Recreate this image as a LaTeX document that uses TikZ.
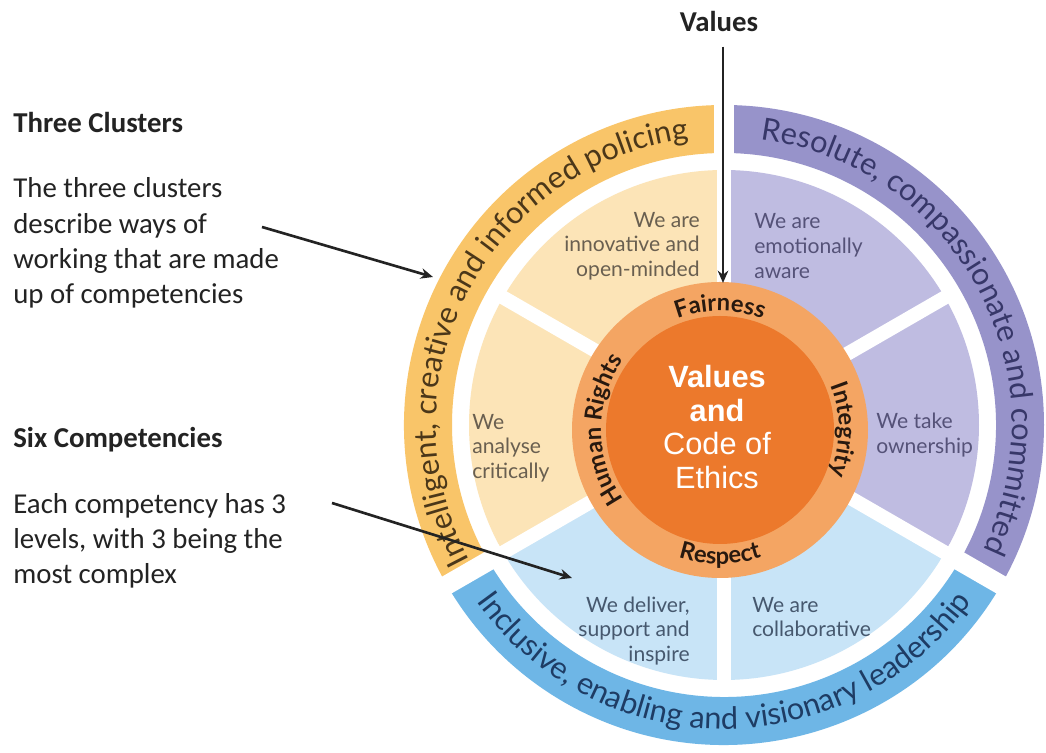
\documentclass[tikz,border=0pt]{standalone}
\usepackage{fontspec}
\setmainfont{Carlito}
\newfontfamily\wheelfont{Lato}
\newfontfamily\corefont{Liberation Sans}
\usepackage{xcolor}
\usepackage{tikz}
\usetikzlibrary{arrows.meta,decorations.text}

\definecolor{ink}{RGB}{35,35,35}
\definecolor{goldband}{RGB}{249,197,105}
\definecolor{goldwedge}{RGB}{252,228,183}
\definecolor{goldtext}{RGB}{105,95,80}
\definecolor{goldink}{RGB}{75,55,25}
\definecolor{lilacband}{RGB}{151,147,202}
\definecolor{lilacwedge}{RGB}{191,188,225}
\definecolor{lilactext}{RGB}{85,82,120}
\definecolor{lilacink}{RGB}{55,55,105}
\definecolor{skyband}{RGB}{110,182,230}
\definecolor{skywedge}{RGB}{200,228,247}
\definecolor{skytext}{RGB}{70,88,110}
\definecolor{skyink}{RGB}{30,60,100}
\definecolor{ringorange}{RGB}{244,165,99}
\definecolor{coreorange}{RGB}{236,121,44}
\definecolor{ringink}{RGB}{40,25,15}

\newcommand\ringfont{\wheelfont\bfseries\fontsize{13.5}{15}\selectfont}
\newcommand\bandfont{\wheelfont\fontsize{17.5}{19}\selectfont}

\begin{document}
\begin{tikzpicture}[x=0.02cm, y=0.02cm,
  head/.style={font=\bfseries\fontsize{16.4}{20}\selectfont, text=ink, inner sep=0pt},
  para/.style={font=\fontsize{16.4}{20}\selectfont, text=ink, align=left, inner sep=0pt},
  wedge/.style={font=\wheelfont\fontsize{12}{14}\selectfont, inner sep=0pt},
  ringword/.style={decorate, decoration={text along path, text align=center, text color=ringink, text={|\ringfont|#1}}},
  band/.style n args={2}{decorate, decoration={text along path, text align=center, text color=#1, text={|\bandfont|#2}}},
  pointer/.style={-{Stealth[length=7pt,width=6pt]}, line width=1.5pt, ink}]

\fill[white] (0,0) rectangle (1046,753);
\useasboundingbox (0,0) rectangle (1046,753);

% Centres
\coordinate (o) at (724,328);
\coordinate (c) at (720,323);

% Clusters
\foreach \a/\col in {90/goldband, -30/lilacband, 210/skyband}
  \fill[\col, shift={(o)}] (\a:272) arc[start angle=\a, delta angle=120, radius=272]
    -- (\a+120:320) arc[start angle=\a+120, delta angle=-120, radius=320] -- cycle;

% Competencies
\foreach \a/\col in {90/goldwedge, 150/goldwedge, -30/lilacwedge, 30/lilacwedge, 210/skywedge, 270/skywedge}
  \fill[\col, shift={(o)}] (0,0) -- (\a:255) arc[start angle=\a, delta angle=60, radius=255] -- cycle;

% Gaps
\foreach \a in {30,90,...,330}
  \draw[white, line width=8pt] (o) -- ++(\a:262);
\foreach \a in {90,210,330}
  \draw[white, line width=11pt] (o) ++(\a:255) -- ++(\a:80);

% Core
\fill[ringorange] (c) circle[radius=148];
\fill[coreorange] (c) circle[radius=114];
\node[font=\corefont\fontsize{17.5}{19}\selectfont, text=white, align=center, inner sep=0pt] (core) at (717,326)
  {\textbf{Values}\\\textbf{and}\\Code of\\Ethics};

\begin{scope}[shift={(c)}]
\path[ringword=Fairness] (130:119) arc[start angle=130, end angle=50, radius=119];
\path[ringword=Integrity] (45:119) arc[start angle=45, end angle=-45, radius=119];
\path[ringword=Respect] (225:134) arc[start angle=225, end angle=315, radius=134];
\path[ringword={Human Rights}] (240:119) arc[start angle=240, end angle=120, radius=119];
\end{scope}

\begin{scope}[shift={(o)}]
\path[band={goldink}{Intelligent, creative and informed policing}] (230:288) arc[start angle=230, end angle=75, radius=288];
\path[band={lilacink}{Resolute, compassionate and committed}] (100:288) arc[start angle=100, end angle=-43, radius=288];
\path[band={skyink}{Inclusive, enabling and visionary leadership}] (198:304) arc[start angle=198, end angle=342, radius=304];
\end{scope}

% Competency texts
\node[wedge, text=goldtext, align=right, anchor=east] (w1) at (700,507) {We are\\innovative and\\open-minded};
\node[wedge, text=lilactext, align=left, anchor=west] (w2) at (754,507) {We are\\emotionally\\aware};
\node[wedge, text=goldtext, align=left, anchor=west] (w3) at (472,305) {We\\analyse\\critically};
\node[wedge, text=lilactext, align=left, anchor=west] (w4) at (876,318) {We take\\ownership};
\node[wedge, text=skytext, align=right, anchor=east] (w5) at (690,122) {We deliver,\\support and\\inspire};
\node[wedge, text=skytext, align=left, anchor=west] (w6) at (752,136) {We are\\collaborative};

% Notes
\node[head, anchor=base west] (h1) at (13,620) {Three Clusters};
\node[para, anchor=west] (p1) at (13,510) {The three clusters\\describe ways of\\working that are made\\up of competencies};
\node[head, anchor=base west] (h2) at (13,305) {Six Competencies};
\node[para, anchor=west] (p2) at (13,212) {Each competency has 3\\levels, with 3 being the\\most complex};
\node[head, anchor=base] (v) at (719,721) {Values};

% Arrows
\coordinate (t1) at (262,526);
\coordinate (e1) at (433,476);
\coordinate (t2) at (332,250);
\coordinate (e2) at (572,175);
\coordinate (e3) at (723,470);
\draw[pointer] (t1) -- (e1);
\draw[pointer] (t2) -- (e2);
\draw[pointer, shorten <=8pt] (v.south -| e3) -- (e3);
\end{tikzpicture}
\end{document}
